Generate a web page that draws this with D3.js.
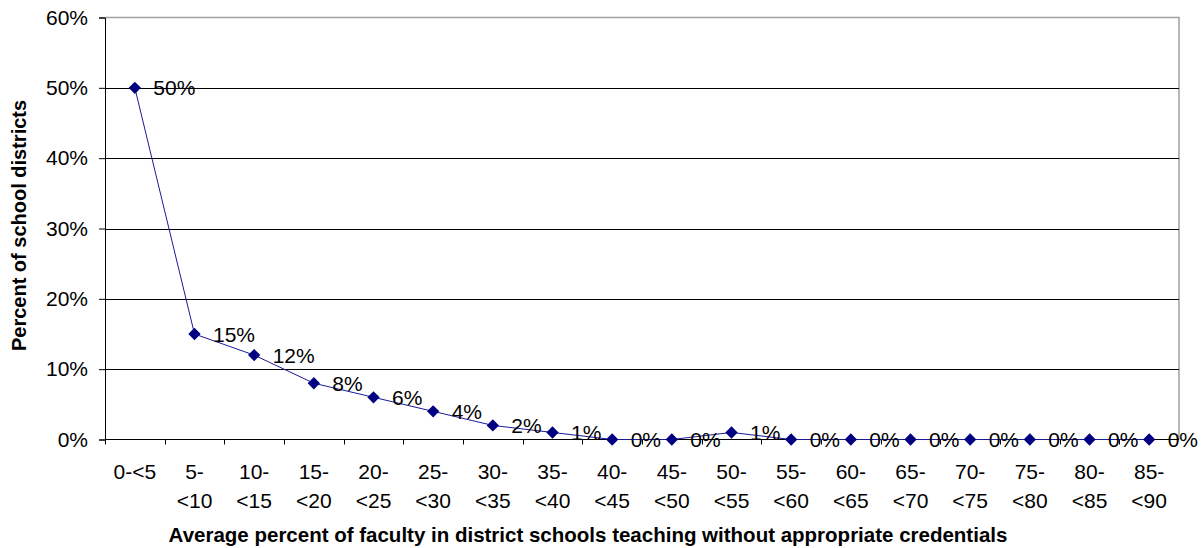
<!DOCTYPE html>
<html>
<head>
<meta charset="utf-8">
<script src="https://cdn.jsdelivr.net/npm/d3@7"></script>
<style>
  html, body { margin: 0; padding: 0; background: #fff; }
  svg { display: block; }
  text { font-family: "Liberation Sans", Arial, sans-serif; fill: #000; }
</style>
</head>
<body>
<svg id="chart" width="1203" height="548"></svg>
<script>
// Bins of the share of uncredentialed faculty (percent ranges)
const categories = ["0-<5", "5-<10", "10-<15", "15-<20", "20-<25", "25-<30", "30-<35", "35-<40", "40-<45",
                    "45-<50", "50-<55", "55-<60", "60-<65", "65-<70", "70-<75", "75-<80", "80-<85", "85-<90"];
// Category tick labels, as drawn on two lines
const tickLines = [["0-<5"], ["5-", "<10"], ["10-", "<15"], ["15-", "<20"], ["20-", "<25"], ["25-", "<30"],
                   ["30-", "<35"], ["35-", "<40"], ["40-", "<45"], ["45-", "<50"], ["50-", "<55"], ["55-", "<60"],
                   ["60-", "<65"], ["65-", "<70"], ["70-", "<75"], ["75-", "<80"], ["80-", "<85"], ["85-", "<90"]];
// Share of school districts in each bin
const shares = [0.50, 0.15, 0.12, 0.08, 0.06, 0.04, 0.02, 0.01, 0.00,
                0.00, 0.01, 0.00, 0.00, 0.00, 0.00, 0.00, 0.00, 0.00];
const yTicks = [0, 0.1, 0.2, 0.3, 0.4, 0.5, 0.6];

const yTitle = "Percent of school districts";
const xTitle = "Average percent of faculty in district schools teaching without appropriate credentials";

const svg = d3.select("#chart");
const plot = { left: 105, right: 1179, top: 17.5, bottom: 439.5 };

const x = d3.scaleBand().domain(categories).range([plot.left, plot.right]);
const y = d3.scaleLinear().domain([0, 0.6]).range([plot.bottom, plot.top]);
const pct = d3.format(".0%");
const cx = d => x(d) + x.bandwidth() / 2;

// plot-area frame (top and right edges)
svg.append("path")
  .attr("d", `M${plot.left},${plot.top}H${plot.right}V${plot.bottom}`)
  .attr("fill", "none").attr("stroke", "#a0a0a0").attr("stroke-width", 1.5);

// horizontal gridlines
svg.append("g").selectAll("line")
  .data(yTicks.filter(t => t > 0 && t < 0.6))
  .join("line")
  .attr("x1", plot.left).attr("x2", plot.right)
  .attr("y1", d => Math.round(y(d)) + 0.5).attr("y2", d => Math.round(y(d)) + 0.5)
  .attr("stroke", "#000").attr("stroke-width", 1);

// y axis
const yAxis = svg.append("g")
  .attr("transform", `translate(${plot.left},0)`)
  .call(d3.axisLeft(y).tickValues(yTicks).tickFormat(pct).tickSize(6).tickPadding(11));
yAxis.selectAll("text").attr("font-size", 21).attr("font-family", null);
yAxis.select(".domain").attr("stroke", "#000");

// x axis line and tick marks on category boundaries
const boundaries = d3.range(categories.length + 1).map(i => plot.left + i * x.step());
svg.append("line")
  .attr("x1", plot.left).attr("x2", plot.right)
  .attr("y1", plot.bottom).attr("y2", plot.bottom)
  .attr("stroke", "#000");
svg.append("g").selectAll("line")
  .data(boundaries.slice(0, -1))
  .join("line")
  .attr("x1", d => Math.round(d) + 0.5).attr("x2", d => Math.round(d) + 0.5)
  .attr("y1", plot.bottom).attr("y2", plot.bottom + 5)
  .attr("stroke", "#000");

// category labels
const xl = svg.append("g").selectAll("text")
  .data(categories)
  .join("text")
  .attr("x", d => cx(d))
  .attr("y", 479)
  .attr("text-anchor", "middle")
  .attr("font-size", 21);
xl.selectAll("tspan")
  .data((d, i) => tickLines[i])
  .join("tspan")
  .attr("x", function () { return this.parentNode.getAttribute("x"); })
  .attr("dy", (d, i) => i === 0 ? 0 : 28.5)
  .text(d => d);

// series line
svg.append("path")
  .datum(categories.map((c, i) => [cx(c), y(shares[i])]))
  .attr("d", d3.line())
  .attr("fill", "none")
  .attr("stroke", "#1a1a99")
  .attr("stroke-width", 1);

// diamond markers
svg.append("g").selectAll("path")
  .data(categories)
  .join("path")
  .attr("d", d3.symbol(d3.symbolSquare, 76))
  .attr("transform", (d, i) => `translate(${cx(d)},${y(shares[i])}) rotate(45)`)
  .attr("fill", "#000080");

// value labels
svg.append("g").selectAll("text")
  .data(categories)
  .join("text")
  .attr("x", d => cx(d) + 18.5)
  .attr("y", (d, i) => y(shares[i]))
  .attr("dy", "0.36em")
  .attr("font-size", 21)
  .text((d, i) => pct(shares[i]));

// axis titles
svg.append("text")
  .attr("transform", `translate(25.5,${(plot.top + plot.bottom) / 2 - 3}) rotate(-90)`)
  .attr("text-anchor", "middle")
  .attr("font-size", 20).attr("font-weight", "bold")
  .text(yTitle);

svg.append("text")
  .attr("x", 588).attr("y", 541.5)
  .attr("text-anchor", "middle")
  .attr("font-size", 20.5).attr("font-weight", "bold")
  .text(xTitle);
</script>
</body>
</html>
